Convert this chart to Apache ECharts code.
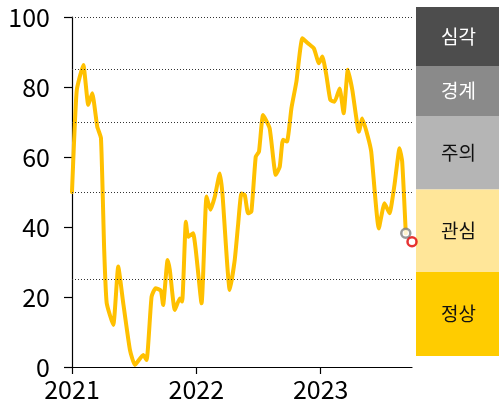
<!DOCTYPE html>
<html><head><meta charset="utf-8">
<script src="https://cdn.jsdelivr.net/npm/echarts@6/dist/echarts.min.js"></script>
<style>html,body{margin:0;padding:0;background:#fff}#c{width:499px;height:414px}</style>
</head><body><div id="c"></div>
<script>
// index time (decimal years) and values
const times = [2021.0,2021.038,2021.091,2021.131,2021.163,2021.203,2021.233,2021.259,2021.279,2021.332,2021.372,2021.412,2021.466,2021.506,2021.573,2021.600,2021.640,2021.672,2021.715,2021.733,2021.769,2021.787,2021.827,2021.867,2021.886,2021.916,2021.934,2021.974,2022.042,2022.082,2022.114,2022.149,2022.189,2022.210,2022.269,2022.309,2022.336,2022.363,2022.390,2022.416,2022.443,2022.478,2022.504,2022.537,2022.590,2022.639,2022.671,2022.697,2022.729,2022.765,2022.805,2022.853,2022.898,2022.946,2022.986,2023.014,2023.046,2023.078,2023.112,2023.153,2023.185,2023.219,2023.255,2023.308,2023.335,2023.380,2023.407,2023.468,2023.514,2023.554,2023.594,2023.635,2023.656,2023.685];
const values = [50,79,86.3,74.9,78.2,68.7,65.4,33.4,18.3,12,28.7,18.3,4.9,0.6,3.4,2,20.1,22.5,21.8,17.7,30.6,27.7,16.3,19.6,18.7,41.5,37.2,38.2,18.2,48.7,44.9,48.7,55.3,49.6,22,30.6,40.6,49.6,49.1,43.9,44.4,60.1,61.5,72,68.2,54.9,57.2,64.9,64.4,73.9,81.5,93.9,92.5,91,86.8,88.7,83.4,76.3,75.8,79.6,72.5,84.9,79.1,67.2,71,65.8,61.5,39.6,46.8,43.9,52,62.5,58.7,38.2];
const lastPoint = [2023.685, 38.2];
const forecastPoint = [2023.735, 35.8];
const thresholds = [25, 50, 70, 85, 100];
const stageLabels = ['심각','경계','주의','관심','정상'];
const yTicks = [0,20,40,60,80,100];
const xTicks = [2021,2022,2023];

const chart = echarts.init(document.getElementById('c'));
const FONT = '"Noto Sans CJK KR","Noto Sans",sans-serif';
const lineData = times.map((t,i)=>[t, values[i]]);

// right-side stage panel
const panelX = 416, panelW = 83;
const bands = [
  {y0:7, y1:66, fill:'#4d4d4d', text:'#ffffff'},
  {y0:66, y1:116, fill:'#8a8a8a', text:'#ffffff'},
  {y0:116, y1:189.5, fill:'#b5b5b5', text:'#111111'},
  {y0:189.5, y1:272, fill:'#ffe699', text:'#111111'},
  {y0:272, y1:356, fill:'#ffcc00', text:'#111111'}
];
const graphics = [];
bands.forEach((b,i)=>{
  graphics.push({type:'rect', left:panelX, top:b.y0, shape:{width:panelW, height:b.y1-b.y0}, style:{fill:b.fill}, silent:true});
  graphics.push({type:'text', x:panelX+panelW/2+1, y:(b.y0+b.y1)/2, style:{text:stageLabels[i], fill:b.text, font:'19px '+FONT, textAlign:'center', textVerticalAlign:'middle'}, silent:true});
});

chart.setOption({
  animation:false,
  grid:{left:72, right:87, top:17, bottom:47, containLabel:false},
  xAxis:{
    type:'value', min:2021, max:2023.735, interval:1,
    axisLine:{lineStyle:{color:'#000', width:1.2}},
    axisTick:{show:true, length:7, lineStyle:{color:'#000', width:1.2}, customValues:xTicks},
    axisLabel:{fontSize:25, color:'#000', fontFamily:FONT, margin:10, customValues:xTicks,
      formatter:v=> String(Math.round(v))},
    splitLine:{show:false}
  },
  yAxis:{
    type:'value', min:0, max:100, interval:20,
    axisLine:{show:true, lineStyle:{color:'#000', width:1.2}},
    axisTick:{show:true, length:8, lineStyle:{color:'#000', width:1.2}},
    axisLabel:{fontSize:25, color:'#000', fontFamily:FONT, margin:22,
      formatter:v=> yTicks.indexOf(v)>=0 ? String(v) : ''},
    splitLine:{show:false}
  },
  graphic:graphics,
  series:[
    {
      type:'line', data:lineData, showSymbol:false, smooth:0.15,
      lineStyle:{color:'#ffc000', width:4, join:'round', cap:'round'},
      z:3,
      markLine:{
        silent:true, symbol:['none','none'], label:{show:false},
        lineStyle:{color:'#333', type:[1,2], width:1},
        data: thresholds.map(v=>({yAxis:v}))
      }
    },
    {
      type:'scatter', data:[lastPoint], symbol:'circle', symbolSize:9,
      itemStyle:{color:'#fff', borderColor:'#7f7f7f', borderWidth:2.5}, z:4, clip:false
    },
    {
      type:'scatter', data:[forecastPoint], symbol:'circle', symbolSize:9,
      itemStyle:{color:'#fff', borderColor:'#e00000', borderWidth:2.5}, z:5, clip:false
    }
  ]
});
</script>
</body></html>
